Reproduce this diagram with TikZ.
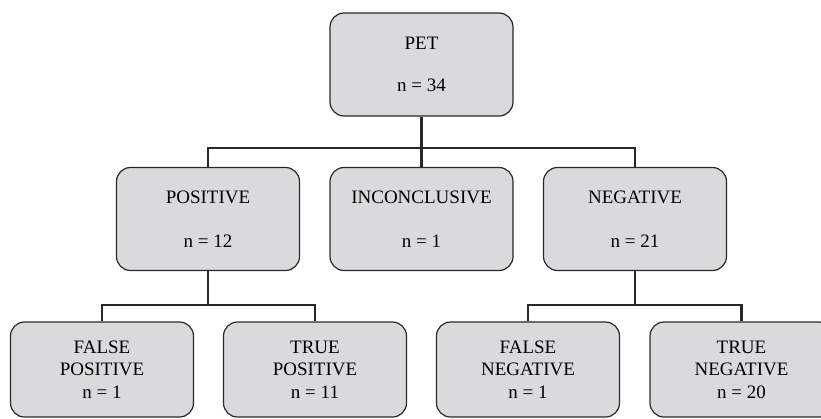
\documentclass[tikz,border=0pt]{standalone}
\usepackage{fontspec}
\setmainfont{Liberation Serif}
\definecolor{boxgray}{RGB}{217,218,220}
\definecolor{linegray}{RGB}{40,40,40}
\tikzset{
  result/.style={draw=linegray, line width=1.2pt, fill=boxgray, rounded corners=14pt,
    minimum width=183pt, minimum height=103pt, align=center, inner sep=0pt,
    font=\fontsize{19}{22.5}\selectfont},
  outcome/.style={result, minimum height=95pt},
  branch/.style={draw=linegray, line width=2.2pt}
}
\begin{document}
\begin{tikzpicture}[x=1pt,y=-1pt]
      \useasboundingbox (0,0) rectangle (821,418);
      \clip (0,0) rectangle (821,418);
      \draw
        (421.5,64.5) node[result] (pet){PET\\[20pt]n = 34}
        (208,219) node[result] (pos){POSITIVE\\[22pt]n = 12}
        (421.5,219) node[result] (inc){INCONCLUSIVE\\[22pt]n = 1}
        (635,219) node[result] (neg){NEGATIVE\\[22pt]n = 21}
        (102,369.5) node[outcome] (fp){FALSE\\POSITIVE\\n = 1}
        (315,369.5) node[outcome] (tp){TRUE\\POSITIVE\\n = 11}
        (528,369.5) node[outcome] (fn){FALSE\\NEGATIVE\\n = 1}
        (741.5,369.5) node[outcome] (tn){TRUE\\NEGATIVE\\n = 20};
      \coordinate (j0) at (421.5,148);
      \coordinate (j1) at (208,305);
      \coordinate (j2) at (635,305);
      \begin{scope}[branch]
        \draw (pet) -- (inc);
        \draw (pos.north) |- (j0) -| (neg.north);
        \draw (pos) -- (j1);
        \draw (fp.north) |- (j1) -| (tp.north);
        \draw (neg) -- (j2);
        \draw (fn.north) |- (j2) -| (tn.north);
      \end{scope}
    \end{tikzpicture}
\end{document}
